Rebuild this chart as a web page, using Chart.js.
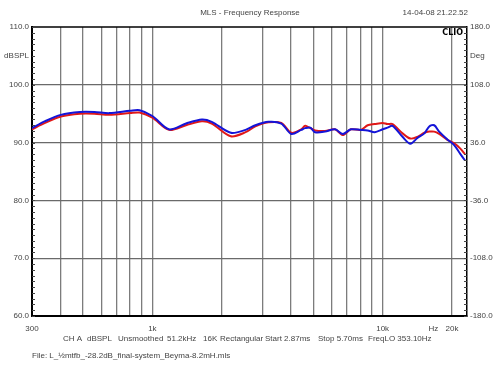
<!DOCTYPE html>
<html>
<head>
<meta charset="utf-8">
<script src="https://cdn.jsdelivr.net/npm/chart.js@4.4.0/dist/chart.umd.min.js"></script>
<style>
  html, body { margin: 0; padding: 0; background: #fff; }
  #wrap { width: 500px; height: 375px; }
</style>
</head>
<body>
<div id="wrap"><canvas id="chart"></canvas></div>
<script>
// frequencies (Hz) shared by both traces
const freqs = [300, 342, 400, 485, 560, 650, 800, 880, 1000, 1180, 1400, 1640, 1810, 2190, 2540, 2800,
  3190, 3630, 4010, 4430, 4610, 4850, 5090, 5620, 6210, 6720, 7280, 8040, 8610, 9240, 10000, 10500,
  11040, 12200, 13200, 14160, 15180, 15940, 16750, 17600, 19050, 20400, 21700, 22800];

// blue trace (dBSPL)
const blueDb = [92.5, 93.7, 94.8, 95.3, 95.3, 95.1, 95.5, 95.6, 94.6, 92.3, 93.3, 94.0, 93.6, 91.7, 92.2, 93.0,
  93.6, 93.3, 91.5, 92.2, 92.5, 92.6, 91.8, 91.9, 92.3, 91.5, 92.3, 92.2, 92.1, 91.8, 92.3, 92.6,
  92.9, 91.0, 89.8, 90.8, 91.6, 92.8, 93.0, 91.9, 90.6, 89.6, 88.1, 86.9];

// red trace (dBSPL)
const redDb = [92.3, 93.4, 94.5, 95.0, 95.0, 94.8, 95.1, 95.2, 94.3, 92.2, 93.0, 93.7, 93.3, 91.1, 91.8, 92.8,
  93.5, 93.4, 91.7, 92.3, 92.9, 92.5, 92.1, 92.0, 92.3, 91.3, 92.3, 92.2, 93.0, 93.2, 93.4, 93.2,
  93.2, 91.6, 90.7, 91.0, 91.7, 91.9, 91.9, 91.5, 90.5, 89.9, 89.0, 88.0];

// axis ticks
const xTicks = [300, 400, 500, 600, 700, 800, 900, 1000, 2000, 3000, 4000, 5000, 6000, 7000, 8000, 9000, 10000, 16600, 20000];
const xLabels = { 300: '300', 1000: '1k', 10000: '10k', 16600: 'Hz', 20000: '20k' };
const yLabels = { 110: '110.0', 105: 'dBSPL', 100: '100.0', 90: '90.0', 80: '80.0', 70: '70.0', 60: '60.0' };
const yGrid = [70, 80, 90, 100];
const degLabels = { 180: '180.0', 144: 'Deg', 108: '108.0', 36: '36.0', '-36': '-36.0', '-108': '-108.0', '-180': '-180.0' };

const infoLine = [
  ['CH A', 63], ['dBSPL', 87], ['Unsmoothed', 118], ['51.2kHz', 167], ['16K', 203],
  ['Rectangular', 220], ['Start 2.87ms', 265], ['Stop 5.70ms', 318], ['FreqLO 353.10Hz', 368]
];
const fileLine = 'File: L_\u00BDmtfb_-28.2dB_final-system_Beyma-8.2mH.mls';

const FONT = '"Liberation Sans", Arial, sans-serif';

// extra text, top border and the small inner ticks
const decor = {
  id: 'decor',
  afterDraw(chart) {
    const { ctx, chartArea: a, scales } = chart;
    ctx.save();
    ctx.strokeStyle = '#000';
    ctx.lineWidth = 1.5;
    ctx.beginPath();
    ctx.moveTo(a.left, a.top);
    ctx.lineTo(a.right, a.top);
    ctx.stroke();

    ctx.strokeStyle = '#444';
    ctx.lineWidth = 1;
    ctx.beginPath();
    scales.y.ticks.forEach(t => {
      const y = Math.round(scales.y.getPixelForValue(t.value)) + 0.5;
      ctx.moveTo(a.left, y); ctx.lineTo(a.left + 3, y);
    });
    scales.y2.ticks.forEach(t => {
      const y = Math.round(scales.y2.getPixelForValue(t.value)) + 0.5;
      ctx.moveTo(a.right, y); ctx.lineTo(a.right - 3, y);
    });
    ctx.stroke();

    ctx.fillStyle = '#444';
    ctx.font = '8px ' + FONT;
    ctx.textBaseline = 'middle';
    ctx.textAlign = 'center';
    ctx.fillText('MLS - Frequency Response', 250, 13);
    ctx.textAlign = 'right';
    ctx.fillText('14-04-08 21.22.52', 468, 13);
    ctx.textAlign = 'left';
    infoLine.forEach(([s, x]) => ctx.fillText(s, x, 339));
    ctx.fillText(fileLine, 32, 356);

    ctx.fillStyle = '#000';
    ctx.font = 'bold 8px "DejaVu Sans", sans-serif';
    ctx.textAlign = 'right';
    ctx.fillText('CLIO', 463, 33);
    ctx.restore();
  }
};

new Chart(document.getElementById('chart'), {
  type: 'line',
  data: {
    labels: freqs,
    datasets: [
      {
        label: 'blue',
        data: freqs.map((f, i) => ({ x: f, y: blueDb[i] })),
        borderColor: '#1414d8',
        borderWidth: 2,
        pointRadius: 0,
        tension: 0.3,
        yAxisID: 'y'
      },
      {
        label: 'red',
        data: freqs.map((f, i) => ({ x: f, y: redDb[i] })),
        borderColor: '#e01818',
        borderWidth: 2,
        pointRadius: 0,
        tension: 0.3,
        yAxisID: 'y'
      }
    ]
  },
  options: {
    responsive: true,
    maintainAspectRatio: false,
    animation: false,
    layout: { padding: { top: 27 } },
    plugins: { legend: { display: false }, tooltip: { enabled: false } },
    scales: {
      x: {
        type: 'logarithmic',
        min: 300,
        max: 23250,
        afterBuildTicks: s => { s.ticks = xTicks.map(v => ({ value: v })); },
        afterFit: s => { s.height = 59; },
        ticks: {
          autoSkip: false,
          maxRotation: 0,
          padding: 8,
          color: '#444',
          font: { size: 8, family: FONT },
          callback: v => xLabels[v] || ''
        },
        grid: {
          drawTicks: false,
          color: c => (c.tick && (c.tick.value === 300 || c.tick.value === 16600)) ? 'rgba(0,0,0,0)' : '#7c7c7c',
          lineWidth: 1.3
        },
        border: { color: '#000', width: 2 }
      },
      y: {
        position: 'left',
        min: 60,
        max: 110,
        afterBuildTicks: s => {
          const t = [];
          for (let v = 60; v <= 110; v++) t.push({ value: v });
          s.ticks = t;
        },
        afterFit: s => { s.width = 32; },
        ticks: {
          autoSkip: false,
          padding: 3,
          color: '#444',
          font: { size: 8, family: FONT },
          callback: v => yLabels[v] || ''
        },
        grid: {
          drawTicks: false,
          color: c => (c.tick && yGrid.includes(c.tick.value)) ? '#6a6a6a' : 'rgba(0,0,0,0)',
          lineWidth: 1.3
        },
        border: { color: '#000', width: 2 }
      },
      y2: {
        position: 'right',
        min: -180,
        max: 180,
        afterBuildTicks: s => {
          const t = [];
          for (let i = 0; i <= 50; i++) t.push({ value: Math.round((-180 + i * 7.2) * 10) / 10 });
          s.ticks = t;
        },
        afterFit: s => { s.width = 33; },
        ticks: {
          autoSkip: false,
          padding: 3,
          color: '#444',
          font: { size: 8, family: FONT },
          callback: v => degLabels[v] || ''
        },
        grid: { display: false, drawTicks: false },
        border: { color: '#000', width: 1.5 }
      }
    }
  },
  plugins: [decor]
});
</script>
</body>
</html>
